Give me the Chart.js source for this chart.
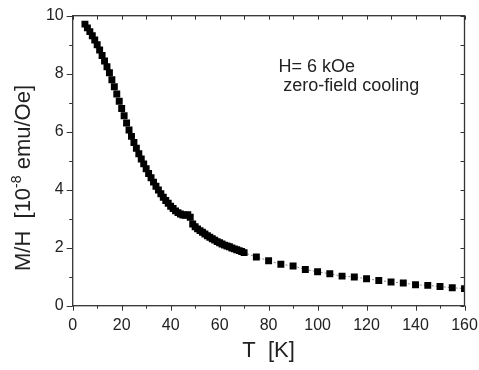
<!DOCTYPE html>
<html>
<head>
<meta charset="utf-8">
<script src="https://cdn.jsdelivr.net/npm/chart.js@4.4.0/dist/chart.umd.min.js"></script>
<style>
  html, body { margin: 0; padding: 0; background: #fff; }
  #wrap { width: 479px; height: 370px; }
</style>
</head>
<body>
<div id="wrap"><canvas id="mh-chart" width="479" height="370"></canvas></div>
<script>
// Температура, K (плотные точки до 69 K, дальше шаг 5 K)
const temps = [
  5, 6, 7, 8, 9, 10, 11, 12, 13, 14, 15, 16, 17, 18, 19, 20, 21, 22, 23, 24,
  25, 26, 27, 28, 29, 30, 31, 32, 33, 34, 35, 36, 37, 38, 39, 40, 41, 42, 43, 44,
  45, 46, 47, 48, 49, 50, 51, 52, 53, 54, 55, 56, 57, 58, 59, 60, 61, 62, 63, 64,
  65, 66, 67, 68, 69,
  70, 75, 80, 85, 90, 95, 100, 105, 110, 115, 120, 125, 130, 135, 140, 145, 150, 155, 160
];

// M/H, 10^-8 emu/Oe (ZFC, H = 6 kOe)
const mh = [
  9.71, 9.58, 9.45, 9.31, 9.16, 9.00, 8.82, 8.63, 8.44, 8.24, 8.03, 7.79, 7.55, 7.30, 7.05, 6.80, 6.55, 6.30, 6.06, 5.84,
  5.63, 5.43, 5.24, 5.06, 4.89, 4.72, 4.56, 4.41, 4.26, 4.12, 3.99, 3.86, 3.74, 3.63, 3.53, 3.43, 3.35, 3.27, 3.21, 3.16,
  3.13, 3.12, 3.14, 3.05, 2.82, 2.72, 2.65, 2.59, 2.53, 2.47, 2.41, 2.36, 2.31, 2.26, 2.21, 2.17, 2.13, 2.09, 2.06, 2.03,
  1.99, 1.96, 1.93, 1.90, 1.87,
  1.83, 1.68, 1.55, 1.43, 1.37, 1.25, 1.17, 1.10, 1.02, 0.99, 0.93, 0.87, 0.82, 0.78, 0.72, 0.70, 0.66, 0.62, 0.59
];

// подписи осей
const xTickLabels = [0, 20, 40, 60, 80, 100, 120, 140, 160];
const yTickLabels = [0, 2, 4, 6, 8, 10];
const xMinor = [0, 10, 20, 30, 40, 50, 60, 70, 80, 90, 100, 110, 120, 130, 140, 150, 160];
const yMinor = [0, 1, 2, 3, 4, 5, 6, 7, 8, 9, 10];

const FONT = '"Liberation Sans", Arial, sans-serif';
const INK = '#222';

// рамка и засечки со всех сторон
const framePlugin = {
  id: 'frame',
  afterDraw(chart) {
    const ctx = chart.ctx;
    const { left, right, top, bottom } = chart.chartArea;
    const x = chart.scales.x, y = chart.scales.y;
    ctx.save();
    ctx.strokeStyle = '#333';
    ctx.lineWidth = 1.3;
    ctx.strokeRect(left, top, right - left, bottom - top);
    ctx.lineWidth = 1;
    ctx.beginPath();
    xMinor.forEach(v => {
      const px = Math.round(x.getPixelForValue(v)) + 0.5;
      const major = xTickLabels.includes(v);
      ctx.moveTo(px, bottom);
      ctx.lineTo(px, bottom + (major ? 5 : 3));
      ctx.moveTo(px, top);
      ctx.lineTo(px, top + 4);
    });
    yMinor.forEach(v => {
      const py = Math.round(y.getPixelForValue(v)) + 0.5;
      const major = yTickLabels.includes(v);
      ctx.moveTo(left, py);
      ctx.lineTo(left - (major ? 6 : 3.5), py);
      ctx.moveTo(right, py);
      ctx.lineTo(right - 4, py);
    });
    ctx.stroke();

    // подпись оси Y с верхним индексом
    const big = '22px ' + FONT, small = '14px ' + FONT;
    const p1 = 'M/H  [10', p2 = '-8', p3 = ' emu/Oe]';
    ctx.font = big;
    const w1 = ctx.measureText(p1).width, w3 = ctx.measureText(p3).width;
    ctx.font = small;
    const w2 = ctx.measureText(p2).width;
    const total = w1 + w2 + w3;
    ctx.translate(30, 178);
    ctx.rotate(-Math.PI / 2);
    ctx.fillStyle = INK;
    ctx.textBaseline = 'alphabetic';
    ctx.textAlign = 'left';
    let cx = -total / 2;
    ctx.font = big;
    ctx.fillText(p1, cx, 0);
    cx += w1;
    ctx.font = small;
    ctx.fillText(p2, cx, -9);
    cx += w2;
    ctx.font = big;
    ctx.fillText(p3, cx, 0);
    ctx.restore();

    // подпись оси X
    ctx.save();
    ctx.fillStyle = INK;
    ctx.font = big;
    ctx.textAlign = 'center';
    ctx.textBaseline = 'alphabetic';
    ctx.fillText('T  [K]', (left + right) / 2, 357);

    // надпись внутри графика
    ctx.font = '18px ' + FONT;
    ctx.textAlign = 'left';
    ctx.fillText('H= 6 kOe', x.getPixelForValue(84), y.getPixelForValue(8.07));
    ctx.fillText('zero-field cooling', x.getPixelForValue(86), y.getPixelForValue(7.39));
    ctx.restore();
  }
};

const points = temps.map((t, i) => ({ x: t, y: mh[i] }));

const ctx = document.getElementById('mh-chart').getContext('2d');
const mhChart = new Chart(ctx, {
  type: 'scatter',
  data: {
    datasets: [{
      data: points,
      showLine: true,
      borderColor: '#888',
      borderWidth: 1,
      borderDash: [2, 2],
      pointStyle: 'rect',
      pointRadius: 4.9,
      pointBorderWidth: 0,
      pointBackgroundColor: '#000'
    }]
  },
  options: {
    responsive: false,
    animation: false,
    devicePixelRatio: 1,
    layout: { padding: { top: 15.7, right: 14.5, left: 0, bottom: 0 } },
    plugins: { legend: { display: false }, tooltip: { enabled: false } },
    scales: {
      x: {
        type: 'linear',
        min: 0, max: 160,
        grid: { display: false, drawTicks: false },
        border: { display: false },
        afterBuildTicks: s => { s.ticks = xTickLabels.map(v => ({ value: v })); },
        ticks: { padding: 10, color: INK, maxRotation: 0, font: { family: FONT, size: 16 } },
        afterFit: s => { s.height = 64.3; s.paddingLeft = 0; s.paddingRight = 0; }
      },
      y: {
        min: 0, max: 10,
        grid: { display: false, drawTicks: false },
        border: { display: false },
        afterBuildTicks: s => { s.ticks = yTickLabels.map(v => ({ value: v })); },
        ticks: { padding: 9, color: INK, font: { family: FONT, size: 16 } },
        afterFit: s => { s.width = 72.7; s.paddingTop = 0; s.paddingBottom = 0; }
      }
    }
  },
  plugins: [framePlugin]
});
</script>
</body>
</html>
